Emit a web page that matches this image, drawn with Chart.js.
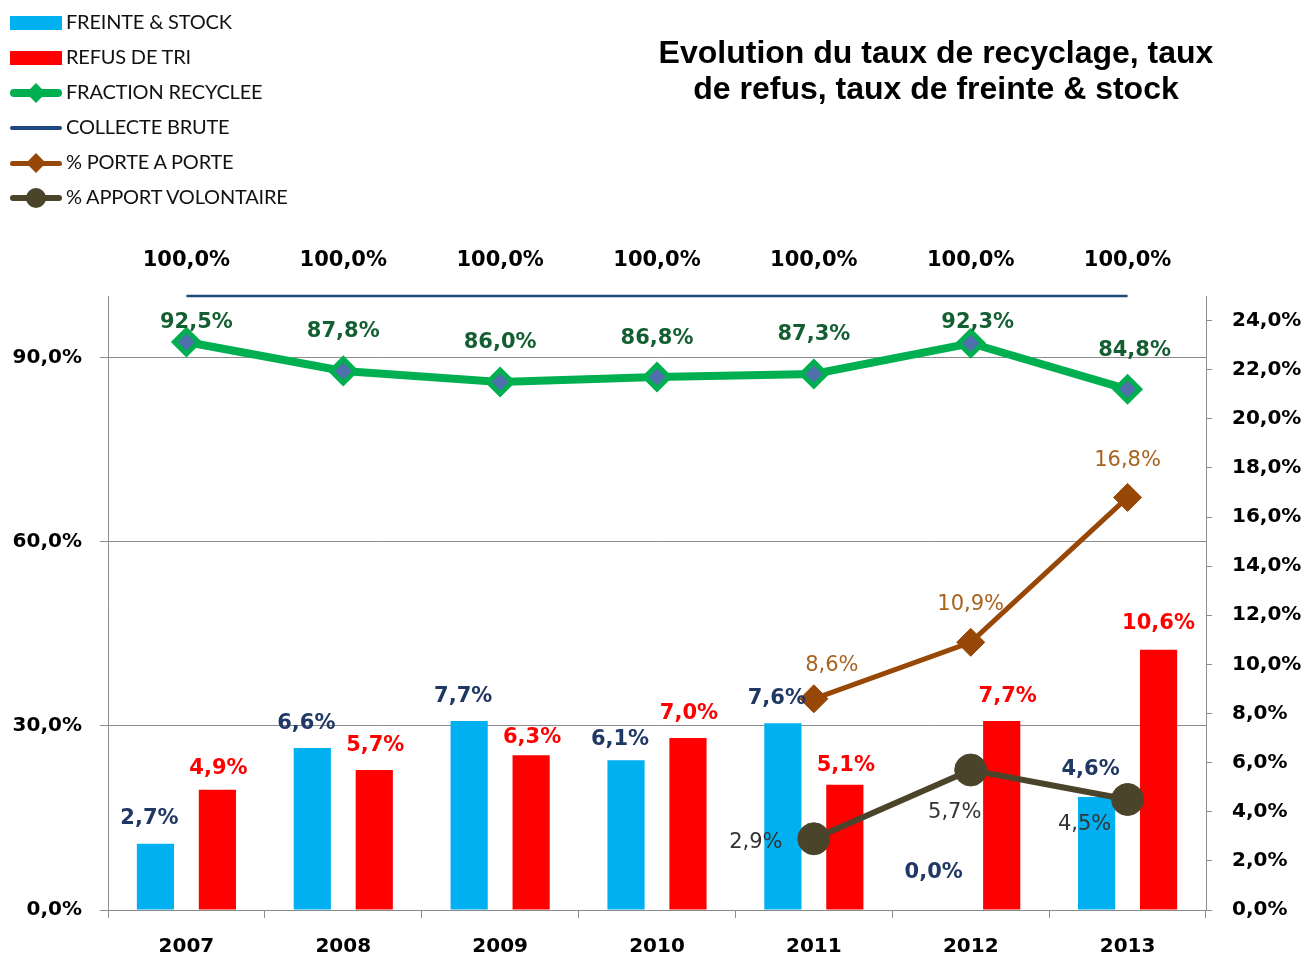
<!DOCTYPE html>
<html>
<head>
<meta charset="utf-8">
<script src="https://cdn.jsdelivr.net/npm/chart.js@4"></script>
<style>
  html, body { margin: 0; padding: 0; background: #fff; }
  #wrap { position: relative; width: 1304px; height: 956px; overflow: hidden; }
  #chart { position: absolute; left: 0; top: 0; }
  #title {
    position: absolute; left: 560px; width: 752px; top: 34px;
    text-align: center; font: bold 32px "Liberation Sans", Arial, sans-serif;
    line-height: 36px; color: #000;
  }
  #legend { position: absolute; left: 10px; top: 5px; font: 20px Lato, sans-serif; color: #111; }
  .row { position: relative; height: 35px; }
  .row span.txt { position: absolute; left: 56px; top: 4px; white-space: nowrap; letter-spacing: -0.2px; }
  .sw { position: absolute; left: 0; width: 52px; }
</style>
</head>
<body>
<div id="wrap">
  <canvas id="chart" width="1304" height="956"></canvas>
  <div id="title">Evolution du taux de recyclage, taux<br>de refus, taux de freinte &amp; stock</div>
  <div id="legend"></div>
</div>
<script>
const years = ["2007", "2008", "2009", "2010", "2011", "2012", "2013"];
const freinte = [2.7, 6.6, 7.7, 6.1, 7.6, 0.0, 4.6];
const refus = [4.9, 5.7, 6.3, 7.0, 5.1, 7.7, 10.6];
const fraction = [92.5, 87.8, 86.0, 86.8, 87.3, 92.3, 84.8];
const collecte = [100, 100, 100, 100, 100, 100, 100];
const porte = [null, null, null, null, 8.6, 10.9, 16.8];
const apport = [null, null, null, null, 2.9, 5.7, 4.5];

function pct(v) {
  return v.toFixed(1).replace(".", ",") + "%";
}

// label style per dataset (offsets from the mark, in px)
const labelStyles = [
  { color: "#1F3864", font: "bold 21px 'DejaVu Sans'", dx: -6, dy: [-28, -27, -27, -24, -28, -40, -30] },
  { color: "#FF0000", font: "bold 21px 'DejaVu Sans'", dx: [1, 1, 1, 1, 1, 6, 0], dy: [-24, -27, -21, -28, -22, -27, -29] },
  { color: "#145F32", font: "bold 21px 'DejaVu Sans'", dx: [10, 0, 0, 0, 0, 7, 7], dy: -42, minTop: 24 },
  { color: "#000000", font: "bold 21px 'DejaVu Sans'", dx: 0, dy: -38 },
  { color: "#A8631F", font: "21px 'DejaVu Sans'", dx: [0, 0, 0, 0, 18, 0, 0], dy: [0, 0, 0, 0, -36, -41, -40] },
  { color: "#333333", font: "21px 'DejaVu Sans'", dx: [0, 0, 0, 0, -58, -16, -43], dy: [0, 0, 0, 0, 1, 40, 22] },
];

const valueLabels = {
  id: "valueLabels",
  afterDatasetsDraw(chart) {
    const ctx = chart.ctx;
    ctx.save();
    ctx.textAlign = "center";
    ctx.textBaseline = "middle";
    chart.data.datasets.forEach((ds, di) => {
      const st = labelStyles[di];
      const meta = chart.getDatasetMeta(di);
      meta.data.forEach((el, i) => {
        const v = ds.data[i];
        if (v === null || v === undefined) return;
        const dx = Array.isArray(st.dx) ? st.dx[i] : st.dx;
        const dy = Array.isArray(st.dy) ? st.dy[i] : st.dy;
        let y = el.y + dy;
        if (st.minTop) y = Math.max(y, chart.chartArea.top + st.minTop);
        ctx.fillStyle = st.color;
        ctx.font = st.font;
        ctx.fillText(pct(v), el.x + dx, y + 3);
      });
    });
    ctx.restore();
  },
};

const gridGray = "#8C8C8C";
const tickFont = { family: "DejaVu Sans", size: 20, weight: "bold" };

const chart = new Chart(document.getElementById("chart"), {
  data: {
    labels: years,
    datasets: [
      { type: "bar", label: "FREINTE & STOCK", data: freinte, yAxisID: "y2", backgroundColor: "#00B0F0", order: 3 },
      { type: "bar", label: "REFUS DE TRI", data: refus, yAxisID: "y2", backgroundColor: "#FF0000", order: 3 },
      {
        type: "line", label: "FRACTION RECYCLEE", data: fraction, yAxisID: "y",
        borderColor: "#00B050", borderWidth: 8, tension: 0,
        pointStyle: "rectRot", pointRadius: 12, pointBackgroundColor: "#4F6FAD",
        pointBorderColor: "#00B050", pointBorderWidth: 5, order: 1, clip: false,
      },
      {
        type: "line", label: "COLLECTE BRUTE", data: collecte, yAxisID: "y",
        borderColor: "#1F497D", borderWidth: 2.5, pointRadius: 0, order: 1, clip: false,
      },
      {
        type: "line", label: "% PORTE A PORTE", data: porte, yAxisID: "y2",
        borderColor: "#974706", borderWidth: 5, tension: 0,
        pointStyle: "rectRot", pointRadius: 14, pointBackgroundColor: "#974706",
        pointBorderColor: "#974706", pointBorderWidth: 1, order: 1, clip: false,
      },
      {
        type: "line", label: "% APPORT VOLONTAIRE", data: apport, yAxisID: "y2",
        borderColor: "#4A452A", borderWidth: 6, tension: 0,
        pointStyle: "circle", pointRadius: 16, pointBackgroundColor: "#4A452A",
        pointBorderColor: "#4A452A", pointBorderWidth: 1, order: 1, clip: false,
      },
    ],
  },
  options: {
    responsive: false,
    animation: false,
    devicePixelRatio: 1,
    layout: { padding: { top: 296, left: 0, right: 0, bottom: 0 } },
    datasets: { bar: { categoryPercentage: 0.79, barPercentage: 0.6 } },
    plugins: { legend: { display: false }, tooltip: { enabled: false } },
    scales: {
      x: {
        grid: { drawOnChartArea: false, offset: true, tickLength: 8, color: gridGray },
        border: { color: gridGray },
        ticks: { color: "#000", font: tickFont, padding: 17 },
        afterFit(s) { s.height = 46; },
      },
      y: {
        position: "left",
        min: 0, max: 100,
        grid: { color: gridGray, tickLength: 8 },
        border: { color: gridGray },
        ticks: { stepSize: 30, includeBounds: false, color: "#000", font: tickFont, padding: 18, callback: (v) => pct(v) },
        afterFit(s) { s.width = 108; },
      },
      y2: {
        position: "right",
        min: 0, max: 25,
        grid: { drawOnChartArea: false, color: gridGray, tickLength: 6 },
        border: { color: gridGray },
        ticks: { stepSize: 2, includeBounds: false, color: "#000", font: tickFont, padding: 20, callback: (v) => pct(v) },
        afterFit(s) { s.width = 98; },
      },
    },
  },
  plugins: [valueLabels],
});

// HTML legend built from the datasets
function renderLegend() {
  const box = document.getElementById("legend");
  box.innerHTML = chart.data.datasets.map((ds) => {
    let sw = "";
    if (ds.type === "bar") {
      sw = `<div class="sw" style="top:11px;height:14px;background:${ds.backgroundColor}"></div>`;
    } else {
      const h = Math.max(4, ds.borderWidth);
      sw = `<div class="sw" style="top:${18 - h / 2}px;height:${h}px;border-radius:${h / 2}px;background:${ds.borderColor}"></div>`;
      if (ds.pointRadius > 0) {
        if (ds.pointStyle === "circle") {
          sw += `<div class="sw" style="left:16px;width:20px;height:20px;top:8px;border-radius:10px;background:${ds.pointBackgroundColor}"></div>`;
        } else {
          sw += `<div class="sw" style="left:19px;width:14px;height:14px;top:11px;transform:rotate(45deg);background:${ds.borderColor}"></div>`;
        }
      }
    }
    return `<div class="row">${sw}<span class="txt">${ds.label}</span></div>`;
  }).join("");
}
renderLegend();
</script>
</body>
</html>
